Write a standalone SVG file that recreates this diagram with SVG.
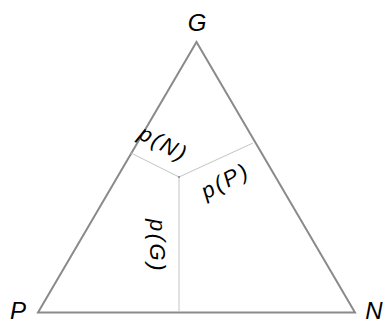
<svg xmlns="http://www.w3.org/2000/svg" width="386" height="323" viewBox="0 0 386 323">
<style>
.edge{stroke:#8a8a8a;stroke-width:2;fill:none}
.inner{stroke:#c4c4c4;stroke-width:1;fill:none}
text{font-family:"Liberation Sans",Arial,sans-serif;font-style:italic;fill:#000}
.v{font-size:24px}
.l{font-size:22px;letter-spacing:2.5px}
</style>
<rect width="386" height="323" fill="#fff"/>
<g id="triangle"><path class="edge" d="M196.5,42 L355,312.5 L38,312.5 Z"/></g>
<g id="connectors">
<line class="inner" x1="179" y1="177" x2="179" y2="312"/>
<line class="inner" x1="179" y1="177" x2="131" y2="153"/>
<line class="inner" x1="179" y1="177" x2="253" y2="143"/>
<circle cx="179" cy="177" r="1" fill="#888"/>
</g>
<g id="G"><text class="v" x="197" y="31" text-anchor="middle">G</text></g>
<g id="P"><text class="v" x="18" y="319" text-anchor="middle">P</text></g>
<g id="N"><text class="v" x="374" y="319" text-anchor="middle">N</text></g>
<g id="pN"><text class="l" text-anchor="middle" transform="translate(163,145) rotate(28)" y="6">p(N)</text></g>
<g id="pP"><text class="l" text-anchor="middle" transform="translate(226,182) rotate(-28)" y="6">p(P)</text></g>
<g id="pG"><text class="l" text-anchor="middle" transform="translate(156,246) rotate(90)" y="6">p(G)</text></g>
</svg>
